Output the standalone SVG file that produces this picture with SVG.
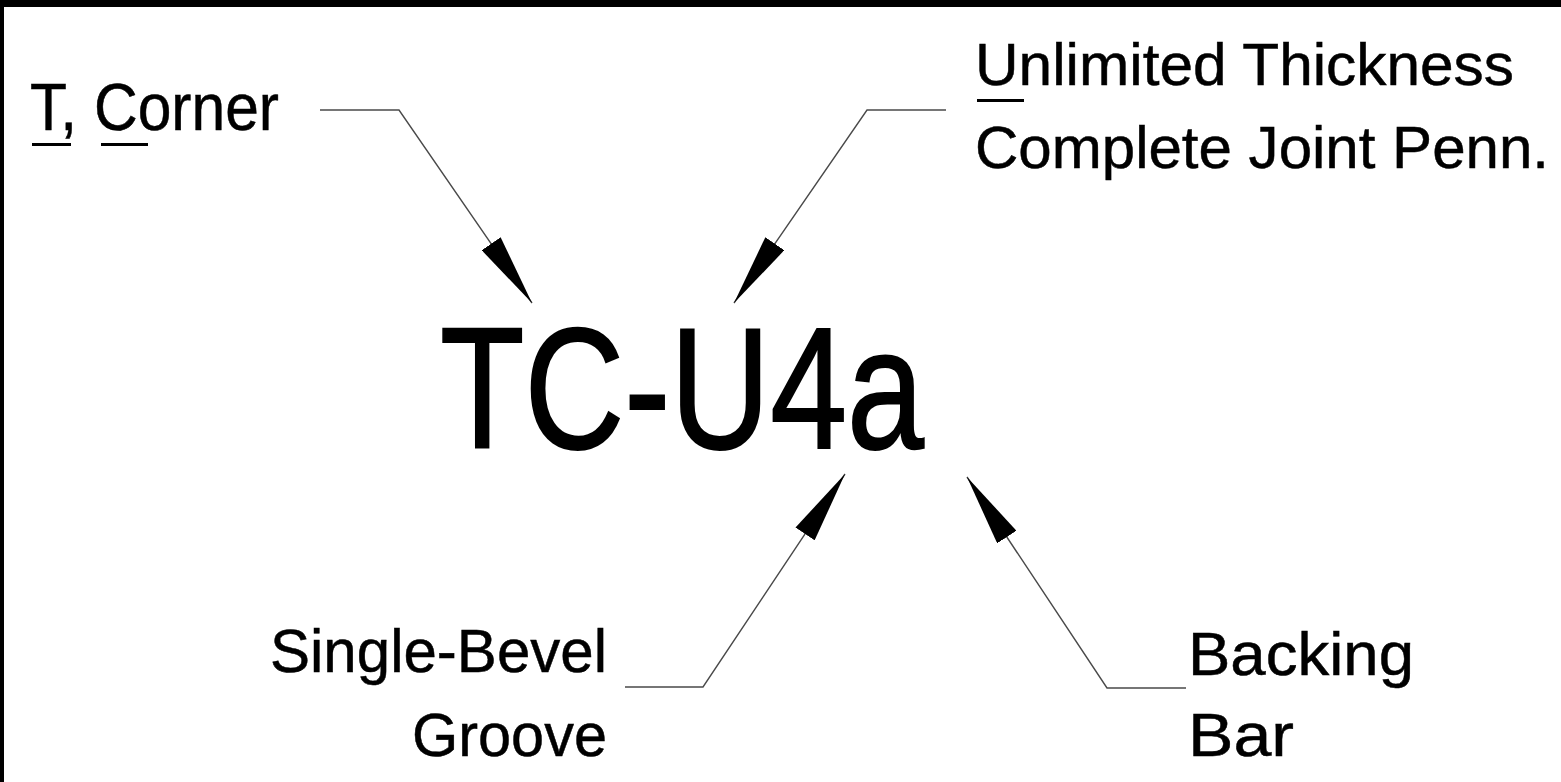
<svg xmlns="http://www.w3.org/2000/svg" width="1561" height="782" viewBox="0 0 1561 782">
<style>
.lbl{font-family:"Liberation Sans",Arial,sans-serif;fill:#000;stroke:#000;stroke-width:0.5;}
.big{stroke-width:2;}
.ld{fill:none;stroke:#4a4a4a;stroke-width:1.4;}
.ul{fill:#000;}
</style>
<defs>
<marker id="ah" viewBox="0 0 72 23" refX="72" refY="11.5" markerWidth="72" markerHeight="23" markerUnits="userSpaceOnUse" orient="auto">
<path d="M0,0 L72,11.5 L0,23 Z" fill="#000"/>
</marker>
</defs>
<rect x="0" y="0" width="1561" height="782" fill="#fff"/>
<rect x="0" y="0" width="1561" height="7" fill="#000"/>
<rect x="0" y="0" width="4" height="782" fill="#000"/>

<g id="connectors">
<path class="ld" d="M320,110 H399 L532,303" marker-end="url(#ah)"/>
<path class="ld" d="M946,110 H867 L734,303" marker-end="url(#ah)"/>
<path class="ld" d="M625,687 H703 L845,474" marker-end="url(#ah)"/>
<path class="ld" d="M1186,688 H1107 L967,477" marker-end="url(#ah)"/>
</g>

<g id="main">
<text class="lbl big" x="440" y="448" font-size="172" textLength="484" lengthAdjust="spacingAndGlyphs">TC-U4a</text>
</g>

<g id="tcorner">
<text class="lbl" x="30" y="130" font-size="66" textLength="249" lengthAdjust="spacingAndGlyphs">T, Corner</text>
<rect class="ul" x="32" y="143" width="39" height="3"/>
<rect class="ul" x="101" y="143" width="47" height="3"/>
</g>

<g id="unlimited">
<text class="lbl" x="975" y="85" font-size="60" textLength="539" lengthAdjust="spacingAndGlyphs">Unlimited Thickness</text>
<text class="lbl" x="975" y="168" font-size="60" textLength="574" lengthAdjust="spacingAndGlyphs">Complete Joint Penn.</text>
<rect class="ul" x="977" y="99" width="47" height="3"/>
</g>

<g id="bevel">
<text class="lbl" x="270" y="672" font-size="62" textLength="337" lengthAdjust="spacingAndGlyphs">Single-Bevel</text>
<text class="lbl" x="412" y="756" font-size="62" textLength="195" lengthAdjust="spacingAndGlyphs">Groove</text>
</g>

<g id="backing">
<text class="lbl" x="1188" y="675" font-size="62" textLength="226" lengthAdjust="spacingAndGlyphs">Backing</text>
<text class="lbl" x="1188" y="756" font-size="62" textLength="106" lengthAdjust="spacingAndGlyphs">Bar</text>
</g>
</svg>
